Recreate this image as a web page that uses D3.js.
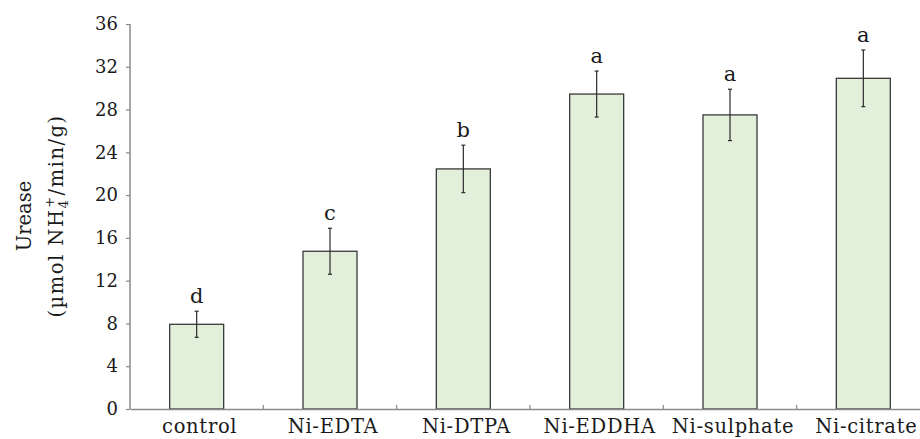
<!DOCTYPE html>
<html>
<head>
<meta charset="utf-8">
<script src="https://cdn.jsdelivr.net/npm/d3@7"></script>
<style>
  html, body { margin: 0; padding: 0; background: #fff; }
  svg { display: block; }
  text { font-family: "DejaVu Serif", serif; fill: #1a1a1a; }
</style>
</head>
<body>
<svg id="chart" width="920" height="439"></svg>
<script>
const categories = ["control", "Ni-EDTA", "Ni-DTPA", "Ni-EDDHA", "Ni-sulphate", "Ni-citrate"];
const means = [7.92, 14.75, 22.45, 29.45, 27.5, 30.92];
const errors = [1.22, 2.15, 2.22, 2.15, 2.4, 2.65];
const letters = ["d", "c", "b", "a", "a", "a"];
const yTicks = [0, 4, 8, 12, 16, 20, 24, 28, 32, 36];

const svg = d3.select("#chart");
const x0 = 130, x1 = 930, yBottom = 409, yTop = 24;

const x = d3.scaleBand().domain(categories).range([x0, x1]).paddingInner(0.595).paddingOuter(0.2975);
const y = d3.scaleLinear().domain([0, 36]).range([yBottom, yTop]);

const data = categories.map((c, i) => ({ c, m: means[i], e: errors[i], l: letters[i] }));

// Bars
svg.append("g").selectAll("rect").data(data).join("rect")
  .attr("x", d => x(d.c))
  .attr("y", d => y(d.m))
  .attr("width", x.bandwidth())
  .attr("height", d => y(0) - y(d.m))
  .attr("fill", "#e2efda")
  .attr("stroke", "#3a3a3a")
  .attr("stroke-width", 1.3);

// Error bars
const eb = svg.append("g").attr("stroke", "#2a2a2a").attr("stroke-width", 1.2);
data.forEach(d => {
  const cx = x(d.c) + x.bandwidth() / 2;
  eb.append("line").attr("x1", cx).attr("x2", cx).attr("y1", y(d.m + d.e)).attr("y2", y(d.m - d.e));
  eb.append("line").attr("x1", cx - 2).attr("x2", cx + 2).attr("y1", y(d.m + d.e)).attr("y2", y(d.m + d.e));
  eb.append("line").attr("x1", cx - 2).attr("x2", cx + 2).attr("y1", y(d.m - d.e)).attr("y2", y(d.m - d.e));
});

// Letters
svg.append("g").selectAll("text").data(data).join("text")
  .attr("x", d => x(d.c) + x.bandwidth() / 2)
  .attr("y", d => y(d.m + d.e) - 8)
  .attr("text-anchor", "middle")
  .attr("font-size", 21)
  .text(d => d.l);

// Y axis
const yAxis = d3.axisLeft(y).tickValues(yTicks).tickSize(4).tickPadding(8);
const gy = svg.append("g").attr("transform", `translate(${x0},0)`).call(yAxis);
gy.select(".domain").attr("stroke", "#8a8a8a").attr("stroke-width", 1.5).attr("d", `M0,${yTop}V${yBottom}`);
gy.selectAll(".tick line").attr("stroke", "#8a8a8a").attr("stroke-width", 1.2);
gy.selectAll(".tick text").attr("font-family", "DejaVu Serif").attr("font-size", 18).attr("fill", "#1a1a1a");

// X axis
const xAxis = d3.axisBottom(x).tickSize(0).tickPadding(6);
const gx = svg.append("g").attr("transform", `translate(0,${yBottom})`).call(xAxis);
gx.select(".domain").attr("stroke", "#8a8a8a").attr("stroke-width", 1.5);
gx.selectAll(".tick text").attr("font-family", "DejaVu Serif").attr("font-size", 19.5)
  .attr("letter-spacing", "0.7px").attr("fill", "#1a1a1a").attr("dy", "0.9em").attr("dx", 3);
// Category boundary ticks (pointing up)
const bounds = categories.slice(1).map(c => x(c) - x.step() * x.paddingInner() / 2);
gx.append("g").selectAll("line").data(bounds).join("line")
  .attr("x1", d => d).attr("x2", d => d).attr("y1", 0).attr("y2", -4)
  .attr("stroke", "#8a8a8a").attr("stroke-width", 1.2);

// Y label
const yl = svg.append("text")
  .attr("transform", `translate(0,216) rotate(-90)`)
  .attr("text-anchor", "middle")
  .attr("font-size", 19.5);
yl.append("tspan").attr("x", 0).attr("y", 31).text("Urease");
const t2 = yl.append("tspan").attr("x", 0).attr("y", 63).attr("letter-spacing", "1.5px");
t2.append("tspan").text("(µmol NH");
t2.append("tspan").attr("font-size", 13).attr("dy", 5).text("4");
t2.append("tspan").attr("font-size", 13).attr("dy", -14).attr("dx", -9).text("+");
t2.append("tspan").attr("dy", 9).text("/min/g)");
</script>
</body>
</html>
